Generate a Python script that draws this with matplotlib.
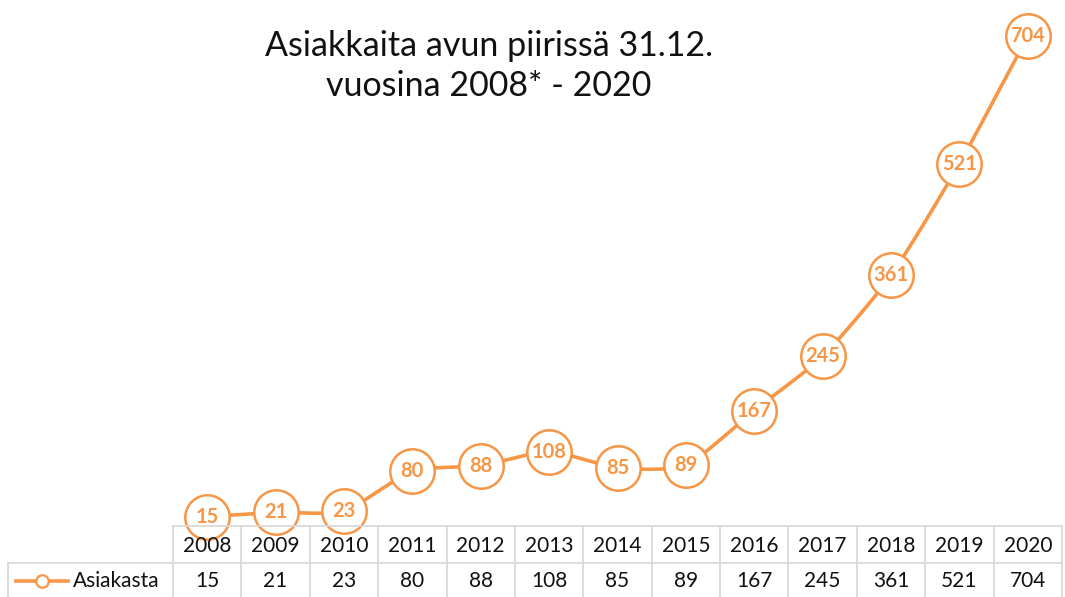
import numpy as np
import matplotlib
matplotlib.use("Agg")
import matplotlib.pyplot as plt
from matplotlib.lines import Line2D

years = ["2008", "2009", "2010", "2011", "2012", "2013", "2014",
         "2015", "2016", "2017", "2018", "2019", "2020"]
values = [15, 21, 23, 80, 88, 108, 85, 89, 167, 245, 361, 521, 704]
series_name = "Asiakasta"
title = "Asiakkaita avun piirissä 31.12.\nvuosina 2008* - 2020"

ORANGE = "#F79646"
GRID = "#D9D9D9"
TXT = "#111111"
FONT = "Lato"

W, H = 1065, 597
fig = plt.figure(figsize=(W / 100, H / 100), dpi=100)

# layout in pixels
tab_left, tab_right = 173, 1062
row1_top, row2_top = 526, 563
zero_y = 527
top_y = 11
ymax = 740

def fx(px):
    return px / W

def fy(py):
    return (H - py) / H

ax = fig.add_axes([fx(tab_left), fy(zero_y), fx(tab_right - tab_left),
                   (zero_y - top_y) / H])
ax.set_xlim(-0.5, len(years) - 0.5)
ax.set_ylim(0, ymax)
ax.axis("off")

# smoothed (Catmull-Rom) line in screen-scaled space
x = np.arange(len(values), dtype=float)
y = np.array(values, dtype=float)
sx = (tab_right - tab_left) / len(years)
sy = (zero_y - top_y) / ymax
P = np.column_stack([x * sx, y * sy])
Pp = np.vstack([P[0] - (P[1] - P[0]), P, P[-1] + (P[-1] - P[-2])])
curve = []
t = np.linspace(0, 1, 30)
for i in range(1, len(Pp) - 2):
    p0, p1, p2, p3 = Pp[i - 1], Pp[i], Pp[i + 1], Pp[i + 2]
    a = 0.5 * 2 / 3
    m1 = a * (p2 - p0)
    m2 = a * (p3 - p1)
    h00 = 2 * t**3 - 3 * t**2 + 1
    h10 = t**3 - 2 * t**2 + t
    h01 = -2 * t**3 + 3 * t**2
    h11 = t**3 - t**2
    seg = (h00[:, None] * p1 + h10[:, None] * m1 + h01[:, None] * p2 + h11[:, None] * m2)
    curve.append(seg)
curve = np.vstack(curve)
ax.plot(curve[:, 0] / sx, curve[:, 1] / sy, color=ORANGE, lw=2.6,
        solid_capstyle="round", clip_on=False, zorder=2)
ax.plot(x, y, linestyle="none", marker="o", ms=32, mfc="white", mec=ORANGE,
        mew=1.8, clip_on=False, zorder=3)
for xi, v in zip(x, values):
    ax.text(xi, v, str(v), ha="center", va="center", color=ORANGE,
            fontsize=14.5, fontweight="bold", family=FONT, zorder=4)

# title
fig.text(fx(489), fy(66), title, ha="center", va="center", fontsize=24.5,
         family=FONT, color=TXT, linespacing=1.3)

# data table
def hline(px0, px1, py):
    fig.add_artist(Line2D([fx(px0), fx(px1)], [fy(py), fy(py)], color=GRID, lw=1.3))

def vline(px, py0, py1):
    fig.add_artist(Line2D([fx(px), fx(px)], [fy(py0), fy(py1)], color=GRID, lw=1.3))

hline(tab_left, tab_right, row1_top)
hline(8, tab_right, row2_top)
for i in range(len(years) + 1):
    vline(tab_left + i * sx, row1_top, H)
vline(8, row2_top, H)

for i, (yr, v) in enumerate(zip(years, values)):
    cx = tab_left + (i + 0.5) * sx
    fig.text(fx(cx), fy(546), yr, ha="center", va="center", fontsize=15,
             family=FONT, color=TXT)
    fig.text(fx(cx), fy(581), str(v), ha="center", va="center", fontsize=15,
             family=FONT, color=TXT)

# legend key
fig.add_artist(Line2D([fx(16), fx(68)], [fy(581), fy(581)], color=ORANGE, lw=2.6))
fig.add_artist(Line2D([fx(42)], [fy(581)], marker="o", ms=9, mfc="white",
                      mec=ORANGE, mew=1.6, linestyle="none"))
fig.text(fx(73), fy(581), series_name, ha="left", va="center", fontsize=15,
         family=FONT, color=TXT)

fig.savefig("out.png", dpi=100)
